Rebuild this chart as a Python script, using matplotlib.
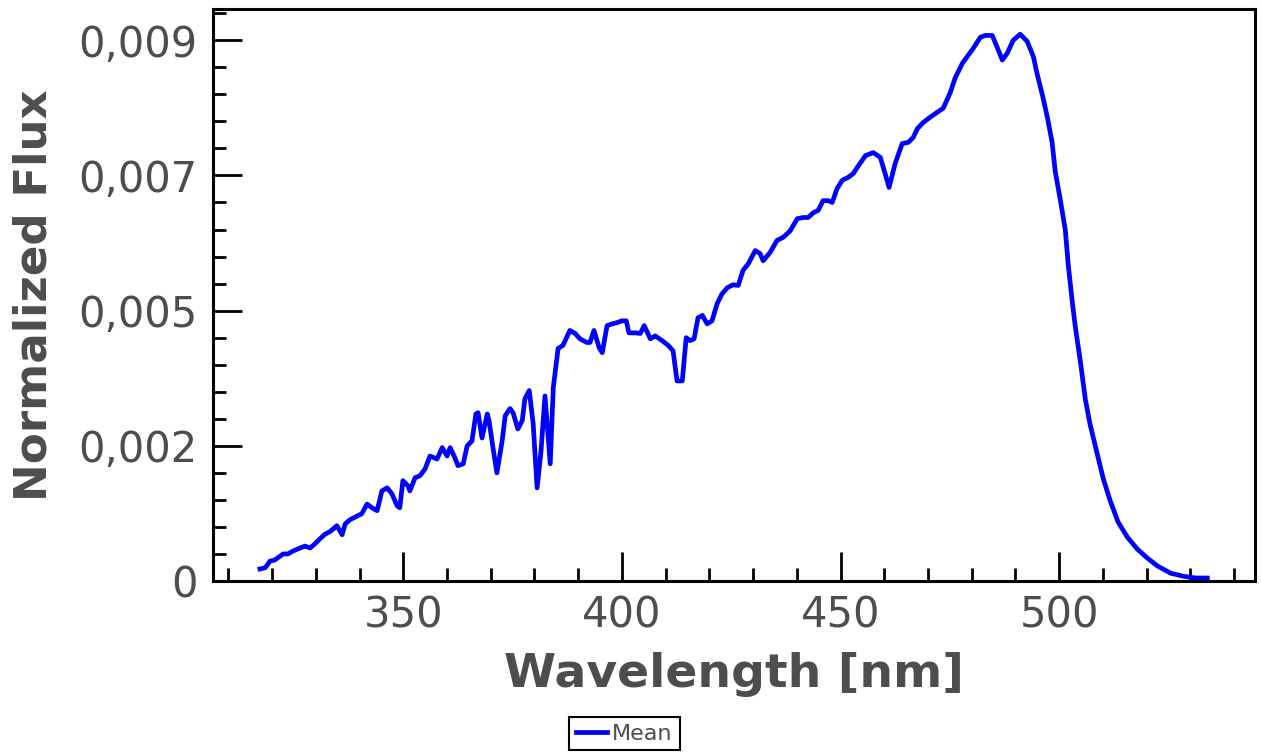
import numpy as np
import matplotlib
matplotlib.use("Agg")
import matplotlib.pyplot as plt
from matplotlib.ticker import MultipleLocator, FixedLocator, FixedFormatter

# espectro medio, flujo en unidades de 1e-5
wavelength = [
    317.2, 318.4, 319.5, 320.6, 322.5, 323.6, 324.8, 326.4, 327.5, 328.7,
    329.8, 330.9, 332.1, 333.2, 334.8, 336.0, 336.7, 337.8, 339.4, 340.5,
    341.7, 342.8, 344.0, 345.1, 346.3, 347.4, 348.6, 349.2, 349.9, 351.1,
    351.5, 352.7, 353.8, 355.0, 356.1, 357.7, 358.9, 360.0, 360.7, 361.8,
    362.5, 363.7, 364.6, 365.7, 366.6, 367.1, 368.0, 369.2, 369.6, 370.5,
    371.4, 372.6, 373.3, 374.4, 375.1, 376.2, 377.2, 377.8, 378.8, 379.7,
    380.6, 381.5, 382.4, 383.6, 384.3, 385.4, 386.5, 388.1, 389.3, 390.4,
    392.0, 392.7, 393.6, 394.8, 395.5, 396.6, 397.8, 398.9, 400.0, 401.0,
    401.6, 403.0, 404.2, 405.1, 406.5, 407.6, 409.2, 410.6, 411.7, 412.6,
    413.8, 414.7, 415.6, 416.5, 417.4, 418.4, 419.5, 420.6, 421.8, 422.9,
    424.1, 425.4, 426.6, 427.7, 428.9, 430.5, 431.6, 432.3, 433.9, 435.5,
    436.9, 438.5, 440.1, 441.5, 442.6, 443.8, 444.9, 446.0, 447.2, 448.1,
    449.2, 450.4, 451.8, 452.9, 453.8, 455.7, 457.5, 459.1, 460.2, 461.1,
    462.5, 464.1, 465.5, 466.6, 467.6, 468.9, 470.5, 472.1, 473.5, 475.1,
    476.2, 477.9, 479.2, 480.4, 482.0, 483.1, 484.7, 485.9, 487.0, 488.1,
    489.5, 491.1, 492.7, 494.1, 495.0, 496.2, 497.3, 498.4, 499.1, 500.3,
    501.4, 502.1, 503.0, 503.7, 504.9, 506.0, 507.1, 508.7, 510.1, 511.7,
    513.5, 515.6, 517.9, 520.2, 522.5, 525.5, 528.4, 531.2, 533.9,
]
flux_e5 = [
    20, 22, 33, 35, 45, 45, 50, 55, 58, 55,
    62, 70, 78, 82, 92, 77, 95, 102, 108, 112,
    128, 122, 117, 150, 155, 145, 125, 122, 167, 158,
    150, 172, 175, 187, 208, 203, 222, 208, 222, 205,
    192, 195, 225, 233, 278, 280, 238, 278, 267, 222,
    180, 233, 275, 287, 280, 253, 267, 303, 317, 262,
    155, 217, 308, 195, 322, 387, 392, 417, 412, 403,
    397, 397, 417, 388, 380, 425, 428, 430, 433, 433,
    413, 413, 412, 425, 403, 408, 400, 392, 383, 333,
    333, 405, 400, 403, 438, 442, 428, 433, 462, 478,
    488, 493, 492, 517, 528, 550, 545, 533, 547, 567,
    572, 583, 603, 605, 605, 613, 617, 633, 633, 630,
    653, 667, 672, 678, 688, 708, 713, 705, 678, 655,
    695, 728, 730, 738, 753, 763, 772, 780, 787, 813,
    837, 862, 875, 887, 905, 908, 908, 887, 867, 878,
    900, 910, 898, 873, 843, 808, 772, 730, 682, 633,
    585, 525, 465, 423, 363, 302, 260, 212, 170, 133,
    98, 73, 53, 38, 25, 13, 8, 5, 5,
]
flux = np.array(flux_e5) * 1e-5

yticks = [0, 0.00225, 0.0045, 0.00675, 0.009]
yticklabels = ["0", "0,002", "0,005", "0,007", "0,009"]

GRAY = "#4d4d4d"
plt.rcParams["font.family"] = "DejaVu Sans"

fig = plt.figure(figsize=(12.61, 7.55), dpi=100)
ax = fig.add_axes([212.7 / 1261, 1 - 581 / 755, (1255 - 212.7) / 1261, (581 - 9) / 755])

ax.plot(wavelength, flux, color="#0000ff", lw=3.4, label="Mean")

ax.set_xlim(306.4, 544.8)
ax.set_ylim(0, 0.00952)
ax.xaxis.set_major_locator(MultipleLocator(50))
ax.xaxis.set_minor_locator(MultipleLocator(10))
ax.yaxis.set_major_locator(FixedLocator(yticks))
ax.yaxis.set_major_formatter(FixedFormatter(yticklabels))
ax.yaxis.set_minor_locator(MultipleLocator(0.00045))

ax.tick_params(which="both", direction="in", top=False, right=False,
               width=2, color="black", labelcolor=GRAY, labelsize=30)
ax.tick_params(which="major", length=21)
ax.tick_params(which="minor", length=9.5)
ax.tick_params(axis="y", pad=11)
ax.tick_params(axis="x", pad=10)
for s in ax.spines.values():
    s.set_linewidth(2.2)
    s.set_color("black")

ax.set_xlabel("Wavelength [nm]", fontsize=34, fontweight="bold", color=GRAY, labelpad=11)
ax.set_ylabel("Normalized Flux", fontsize=32.5, fontweight="bold", color=GRAY, labelpad=16)

leg = fig.legend(loc="upper left", bbox_to_anchor=(569 / 1261, 1 - 717 / 755),
                 borderaxespad=0, fontsize=16, handlelength=1.4,
                 handletextpad=0.25, borderpad=0.3, fancybox=False,
                 framealpha=1, edgecolor="black")
leg.get_frame().set_linewidth(1.5)
for t in leg.get_texts():
    t.set_color(GRAY)

fig.savefig("out.png", dpi=100)
